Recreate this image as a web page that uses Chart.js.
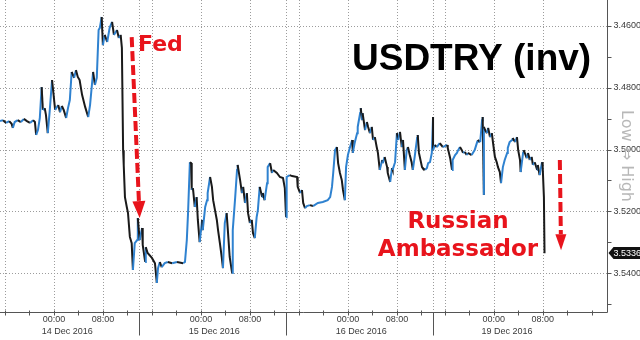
<!DOCTYPE html>
<html><head><meta charset="utf-8">
<script src="https://cdn.jsdelivr.net/npm/chart.js@4.4.1/dist/chart.umd.min.js"></script>
<style>html,body{margin:0;padding:0;background:#fff}#wrap{width:640px;height:340px;position:relative}</style>
</head><body><div id="wrap"><canvas id="c"></canvas></div>
<script>
// session hours (14 Dec 00:00 = 0, weekend compressed)
const hours = [
-8.8,-8.3,-7.8,-7.3,-6.9,-6.7,-6.4,-5.9,-5.4,-4.9,
-4.4,-3.9,-3.4,-3.1,-2.9,-2.6,-2.3,-2.0,-1.8,-1.5,
-1.3,-1.0,-0.7,-0.3,0.2,0.7,1.0,1.3,1.6,2.0,
2.3,2.6,2.9,3.3,3.6,3.9,4.2,4.6,5.1,5.6,
5.9,6.4,6.7,7.0,7.3,7.5,7.8,8.0,8.3,8.7,
9.1,9.5,9.8,10.3,10.6,10.9,11.1,11.3,11.4,11.6,
11.9,12.1,12.4,12.7,12.9,13.2,13.6,13.7,14.0,14.4,
14.5,14.9,15.0,15.3,16.0,16.5,16.8,17.0,17.3,17.6,
18.1,18.6,19.3,20.1,21.1,21.4,21.7,21.9,22.2,22.4,
22.5,22.7,23.0,23.3,23.5,23.8,24.2,24.3,24.7,25.0,
25.1,25.5,25.8,26.0,26.3,26.6,26.8,27.1,27.4,27.6,
27.9,28.2,28.4,28.7,29.1,29.2,29.6,29.9,30.0,30.4,
30.7,30.9,31.2,31.5,31.7,32.0,32.3,32.5,32.8,33.1,
33.3,33.6,34.0,34.1,34.4,34.8,34.9,35.3,35.6,35.8,
36.4,36.9,37.4,37.7,37.9,38.0,38.5,38.9,39.7,39.8,
40.2,40.5,40.7,41.0,41.3,41.8,42.3,43.1,43.9,44.7,
45.1,45.4,45.6,45.9,46.2,46.4,46.7,47.0,47.2,47.5,
47.7,48.0,48.3,48.7,48.8,49.1,49.5,49.6,50.0,50.1,
50.3,50.4,50.8,51.1,51.3,51.6,51.9,52.1,52.4,52.7,
52.9,53.2,53.6,53.7,54.0,54.4,54.5,54.9,55.2,55.3,
55.7,56.0,56.2,56.5,56.8,57.0,57.3,57.6,57.8,58.1,
58.4,58.6,58.9,59.3,59.4,59.6,60.1,60.2,60.6,60.9,
61.1,61.4,61.7,61.9,61.9,62.2,62.5,63.0,63.5,64.2,
64.3,64.7,65.0,65.1,65.5,65.8,66.0,66.3,66.6,66.8,
67.1,67.4,67.6,68.2,68.4,68.7,69.1,69.2,69.6,69.9,
70.0,70.2,70.2,70.4,70.7,70.9,71.2,71.5,71.7,72.0,
72.3,72.5,72.8,73.0,73.3,73.6,74.0,74.1,74.4,74.8,
74.9,75.3,75.6,75.8,76.1,76.2,76.6,76.7,77.2,77.4,
77.7,78.0,78.2,78.5,78.9,79.0,79.3,79.7,79.8,80.0,80.1
];
const prices = [
3.4908,3.4905,3.4914,3.4908,3.4917,3.4930,3.4911,3.4905,3.4911,3.4901,
3.4908,3.4914,3.4905,3.4911,3.4953,3.4937,3.4898,3.4798,3.4872,3.4866,
3.4888,3.4947,3.4879,3.4775,3.4872,3.4856,3.4879,3.4859,3.4872,3.4898,
3.4866,3.4840,3.4749,3.4768,3.4743,3.4765,3.4775,3.4823,3.4862,3.4895,
3.4856,3.4749,3.4791,3.4768,3.4613,3.4606,3.4571,3.4662,3.4629,3.4652,
3.4606,3.4587,3.4629,3.4613,3.4639,3.4629,3.4671,3.5002,3.5050,3.5154,
3.5186,3.5206,3.5283,3.5303,3.5390,3.5303,3.5293,3.5222,3.5293,3.5254,
3.5309,3.5364,3.5316,3.5335,3.5351,3.5368,3.5432,3.5384,3.5364,3.5381,
3.5368,3.5364,3.5368,3.5364,3.5368,3.5364,3.5293,3.5206,3.5041,3.5044,
3.5131,3.5125,3.5186,3.5154,3.5228,3.5300,3.5228,3.5261,3.5186,3.5164,
3.5141,3.5089,3.5121,3.5164,3.5196,3.5228,3.5261,3.5303,3.5348,3.5384,
3.5238,3.5206,3.5261,3.5348,3.5400,3.5261,3.5154,3.5066,3.5050,3.5099,
3.5141,3.5121,3.5173,3.5141,3.5206,3.5238,3.5228,3.5270,3.5287,3.5219,
3.5196,3.5121,3.5154,3.5141,3.5164,3.5109,3.5057,3.5044,3.5076,3.5066,
3.5076,3.5089,3.5092,3.5125,3.5219,3.5089,3.5083,3.5086,3.5089,3.5121,
3.5141,3.5131,3.5173,3.5190,3.5183,3.5180,3.5183,3.5173,3.5170,3.5164,
3.5154,3.5121,3.5076,3.5002,3.4992,3.5044,3.5076,3.5099,3.5131,3.5164,
3.5057,3.5018,3.4995,3.4969,3.5011,3.4979,3.4947,3.4927,3.4882,3.4866,
3.4905,3.4882,3.4937,3.4911,3.4927,3.4947,3.4927,3.4969,3.4960,3.4992,
3.5011,3.5066,3.5034,3.5044,3.5024,3.5057,3.5076,3.5105,3.5060,3.5066,
3.5041,3.4947,3.4969,3.4943,3.4992,3.4969,3.5066,3.5002,3.4992,3.5018,
3.5041,3.5066,3.5024,3.4963,3.4953,3.5011,3.5057,3.5060,3.5066,3.5060,
3.5044,3.5041,3.5011,3.4895,3.5002,3.4985,3.4992,3.4979,3.4992,3.4985,
3.4995,3.5028,3.5066,3.5034,3.5018,3.5011,3.5002,3.4992,3.5002,3.5011,
3.5008,3.5018,3.5011,3.5018,3.5011,3.5002,3.4976,3.4969,3.4976,3.4905,
3.4895,3.5147,3.4927,3.4937,3.4947,3.4930,3.4960,3.4947,3.4979,3.5024,
3.5041,3.5057,3.5073,3.5109,3.5057,3.5034,3.5011,3.4995,3.4976,3.4969,
3.4963,3.4976,3.4960,3.5002,3.5034,3.5073,3.5011,3.5002,3.5028,3.5011,
3.5034,3.5024,3.5050,3.5041,3.5066,3.5050,3.5083,3.5041,3.5057,3.5154,3.5336
];
const yTickValues = [3.46, 3.48, 3.50, 3.52, 3.54];
const yMinorTickValues = [3.47, 3.49, 3.51, 3.53, 3.55];
const xLabelHours = [0, 8, 24, 32, 48, 56, 71.8, 79.8];
const xLabels = ['00:00','08:00','00:00','08:00','00:00','08:00','00:00','08:00'];
const dayStartHours = [0, 24, 48, 71.8];
const dayLabels = ['14 Dec 2016','15 Dec 2016','16 Dec 2016','19 Dec 2016'];
const sessionBreakHours = [13.9, 37.9, 61.9];
const xGridHours = [-8, 0, 8, 16, 24, 32, 40, 48, 56, 63.8, 71.8, 79.8];
const xMinorTickHours = [-8,-4,0,4,8,12,16,20,24,28,32,36,40,44,48,52,56,60,63.8,67.8,71.8,75.8,79.8,83.8,87.8];

const C = {grid:'#9c9c9c', axis:'#555', text:'#3a3a3a', red:'#e8141c', blue:'#2f82d0', dark:'#1a1a1a'};

function seg(ctx, x0, y0, x1, y1) { ctx.beginPath(); ctx.moveTo(x0, y0); ctx.lineTo(x1, y1); ctx.stroke(); }
function dashedArrow(ctx, x0, y0, x1, y1, headLen, headW) {
  const dx = x1 - x0, dy = y1 - y0, L = Math.hypot(dx, dy), ux = dx / L, uy = dy / L;
  const bx = x1 - ux * headLen, by = y1 - uy * headLen;
  ctx.save();
  ctx.strokeStyle = C.red; ctx.fillStyle = C.red; ctx.lineWidth = 4; ctx.setLineDash([10, 4]);
  seg(ctx, x0, y0, bx, by);
  ctx.setLineDash([]);
  ctx.beginPath();
  ctx.moveTo(x1, y1);
  ctx.lineTo(bx - uy * headW / 2, by + ux * headW / 2);
  ctx.lineTo(bx + uy * headW / 2, by - ux * headW / 2);
  ctx.closePath(); ctx.fill();
  ctx.restore();
}

const decor = {
  id: 'decor',
  beforeDatasetsDraw(chart) {
    const {ctx, chartArea: a, scales: {x, y}} = chart;
    ctx.save();
    ctx.strokeStyle = C.grid; ctx.lineWidth = 1; ctx.setLineDash([1, 2]);
    yTickValues.forEach(v => { const py = Math.round(y.getPixelForValue(v)) + 0.5; seg(ctx, a.left, py, a.right, py); });
    xGridHours.concat(sessionBreakHours).forEach(h => { const px = Math.round(x.getPixelForValue(h)) + 0.5; seg(ctx, px, a.top, px, a.bottom); });
    ctx.restore();
  },
  afterDatasetsDraw(chart) {
    const {ctx, chartArea: a, scales: {x, y}} = chart;
    const W = chart.width;
    ctx.save();
    // axes
    ctx.strokeStyle = C.axis; ctx.lineWidth = 1;
    const ax = Math.round(a.right) + 0.5, ay = Math.round(a.bottom) + 0.5;
    seg(ctx, ax, a.top, ax, ay);
    seg(ctx, a.left, ay, ax, ay);
    yTickValues.concat(yMinorTickValues).forEach(v => { const py = Math.round(y.getPixelForValue(v)) + 0.5; seg(ctx, ax, py, ax + 4, py); });
    xMinorTickHours.forEach(h => { const px = Math.round(x.getPixelForValue(h)) + 0.5; seg(ctx, px, ay - 2, px, ay + 3); });
    sessionBreakHours.forEach(h => { const px = Math.round(x.getPixelForValue(h)) + 0.5; seg(ctx, px, ay, px, ay + 23); });
    // y labels
    ctx.fillStyle = C.text; ctx.font = '9px "Liberation Sans"'; ctx.textBaseline = 'middle'; ctx.textAlign = 'left';
    yTickValues.forEach(v => ctx.fillText(v.toFixed(4), ax + 6, y.getPixelForValue(v)));
    // x labels
    ctx.textAlign = 'center';
    xLabelHours.forEach((h, i) => ctx.fillText(xLabels[i], x.getPixelForValue(h), ay + 7));
    ctx.textAlign = 'left';
    const hw = ctx.measureText('00:00').width / 2;
    dayStartHours.forEach((h, i) => ctx.fillText(dayLabels[i], x.getPixelForValue(h) - hw - 1, ay + 19));
    // last value tag
    const last = prices[prices.length - 1];
    const ly = Math.round(y.getPixelForValue(last));
    ctx.fillStyle = '#111';
    ctx.beginPath(); ctx.moveTo(ax + 1, ly); ctx.lineTo(ax + 6, ly - 6); ctx.lineTo(W, ly - 6); ctx.lineTo(W, ly + 6); ctx.lineTo(ax + 6, ly + 6); ctx.closePath(); ctx.fill();
    ctx.fillStyle = '#fff'; ctx.fillText(last.toFixed(4), ax + 6, ly + 0.5);
    // Low <=> High
    ctx.save();
    ctx.translate(626, 156); ctx.rotate(Math.PI / 2);
    ctx.fillStyle = '#b8b8b8'; ctx.font = '16px "DejaVu Sans"'; ctx.textAlign = 'center'; ctx.textBaseline = 'middle';
    ctx.fillText('Low \u21D4 High', 0, 0);
    ctx.restore();
    // title
    ctx.fillStyle = '#000'; ctx.font = 'bold 37px "Liberation Sans"'; ctx.textAlign = 'left'; ctx.textBaseline = 'alphabetic';
    ctx.fillText('USDTRY (inv)', 352, 70);
    // annotations
    ctx.fillStyle = C.red; ctx.font = 'bold 22px "DejaVu Sans"';
    ctx.fillText('Fed', 138, 51);
    ctx.font = 'bold 23px "DejaVu Sans"'; ctx.textAlign = 'center';
    ctx.fillText('Russian', 458, 228);
    ctx.fillText('Ambassador', 458, 256);
    ctx.restore();
    dashedArrow(ctx, x.getPixelForValue(12.7), y.getPixelForValue(3.4636), x.getPixelForValue(14.0), y.getPixelForValue(3.5222), 17, 13);
    dashedArrow(ctx, x.getPixelForValue(82.6), y.getPixelForValue(3.5034), x.getPixelForValue(82.8), y.getPixelForValue(3.5326), 16, 11);
  }
};

new Chart(document.getElementById('c'), {
  type: 'line',
  data: { datasets: [{
    data: hours.map((h, i) => ({x: h, y: prices[i]})),
    borderWidth: 2, pointRadius: 0, tension: 0, borderColor: C.dark,
    segment: { borderColor: c => c.p1.parsed.y < c.p0.parsed.y ? C.blue : C.dark }
  }]},
  options: {
    responsive: true, maintainAspectRatio: false, animation: false,
    layout: { padding: { left: 0, top: 0, right: 33, bottom: 28 } },
    plugins: { legend: { display: false }, tooltip: { enabled: false } },
    scales: {
      x: { type: 'linear', display: false, min: -8.8, max: 90.3 },
      y: { display: false, reverse: true, min: 3.4516, max: 3.5526 }
    }
  },
  plugins: [decor]
});
</script></body></html>
